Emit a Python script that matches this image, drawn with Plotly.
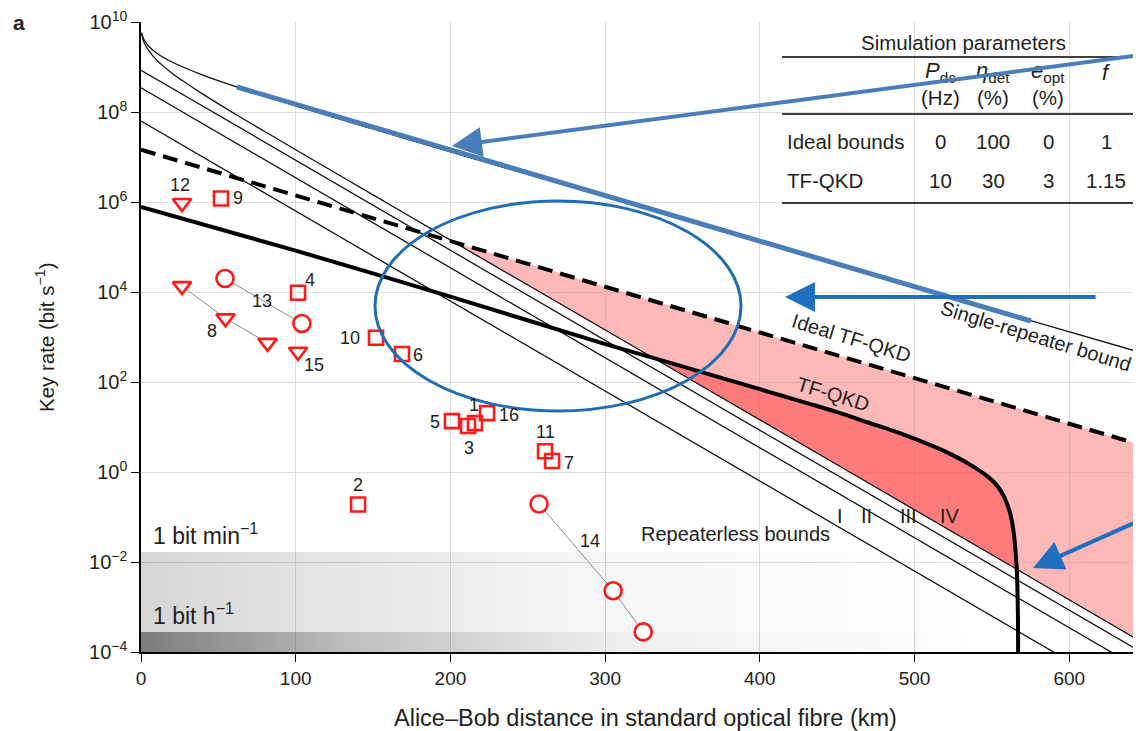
import numpy as np
import plotly.graph_objects as go

# ---------------- data ----------------
x_tick_vals = [0, 100, 200, 300, 400, 500, 600]
y_tick_exps = [-4, -2, 0, 2, 4, 6, 8, 10]
x_max_km = 646.4

# Single-repeater bound
srb_km = [0.5, 1, 2, 5, 10, 20, 40, 62, 100, 150, 200, 300, 400, 500, 646.4]
srb_rate = [5.8e9, 4.9e9, 4.0e9, 2.9e9, 2.05e9, 1.29e9, 6.6e8, 3.6e8, 1.37e8,
            4.2e7, 1.3e7, 1.3e6, 1.3e5, 1.3e4, 4.5e2]

# Repeaterless bounds I-IV
bound_iv_km = [0.5, 1, 2, 5, 10, 20, 30, 40, 60, 80, 100, 150, 202, 331, 566.1, 646.4]
bound_iv_rate = [5.5e9, 4.5e9, 3.5e9, 2.3e9, 1.44e9, 7.3e8, 4.2e8, 2.5e8, 9.4e7,
                 3.7e7, 1.45e7, 1.44e6, 1.3e5, 3.45e2, 6.9e-3, 1.7e-4]
straight_km = [0, 646.4]
bound_i_rate = [6.3e7, 7.4e-6]
bound_ii_rate = [3.45e8, 4.1e-5]
bound_iii_rate = [8.5e8, 1.0e-4]

# Ideal TF-QKD (dashed)
ideal_tf_km = [0, 202, 646.4]
ideal_tf_rate = [1.45e7, 1.3e5, 4.0]

# TF-QKD (thick solid)
tf_km = [0, 100, 200, 297, 331, 363.5, 430.5, 450, 470, 490, 510, 525, 538, 548,
         554, 558, 561, 563, 564.5, 565.5, 566.1, 566.6, 566.9, 567.1]
tf_rate = [7.8e5, 8.3e4, 7.9e3, 7.5e2, 3.45e2, 1.62e2, 34, 21.4, 12.6, 7.4, 4.0,
           2.34, 1.32, 0.76, 0.47, 0.275, 0.151, 0.079, 0.035, 0.014, 6.9e-3,
           2.0e-3, 4.0e-4, 1e-5]

# Experiments
sq_ids = ["9", "4", "10", "6", "5", "3", "1", "16", "11", "7", "2"]
sq_km = [51.7, 101.5, 151.9, 168.7, 201.0, 211.4, 215.9, 223.7, 261.2, 265.7, 140.3]
sq_rate = [1.2e6, 9.6e3, 9.6e2, 4.2e2, 13.5, 10.5, 12.2, 20.4, 2.9, 1.75, 0.19]
tri_ids = ["12", "15"]
tri_km = [26.5, 101.5]
tri_rate = [9.5e5, 4.7e2]
exp8_km = [26.5, 54.6, 81.8]
exp8_rate = [1.35e4, 2.6e3, 7.4e2]
exp13_km = [54.3, 104.0]
exp13_rate = [2.0e4, 2.0e3]
exp14_km = [257.3, 305.2, 324.6]
exp14_rate = [0.195, 2.3e-3, 2.8e-4]

# Reference rates
one_bit_per_min = 1 / 60
one_bit_per_hour = 1 / 3600
axis_min_rate = 1e-4

# Table
table_title = "Simulation parameters"
table_head_sym = ["<i>P</i><sub>dc</sub>", "<i>η</i><sub>det</sub>", "<i>e</i><sub>opt</sub>", "<i>f</i>"]
table_head_unit = ["(Hz)", "(%)", "(%)", ""]
table_rows = ["Ideal bounds", "TF-QKD"]
table_vals = [["0", "100", "0", "1"], ["10", "30", "3", "1.15"]]

# ---------------- layout / style ----------------
OFF = 8                      # default page margin of the html body
SCR_W, SCR_H = 1141, 731
PLOT_L, PLOT_R, PLOT_T, PLOT_B = 141, 1141, 22, 652   # plot area on screen
W, H = SCR_W - OFF, SCR_H - OFF
ML, MT = PLOT_L - OFF, PLOT_T - OFF
MB = H - (PLOT_B - OFF)
PW, PH = PLOT_R - PLOT_L, PLOT_B - PLOT_T
FONT = "Liberation Sans, Arial, Helvetica, sans-serif"
TXT = "#231f20"
RED = "#ff1a1a"


def px(x):
    return (x - PLOT_L) / PW


def py(y):
    return (PLOT_B - y) / PH


def paper_text(x, y, text, size, **kw):
    d = dict(x=px(x), y=py(y), xref="paper", yref="paper", text=text, showarrow=False,
             xanchor="center", yanchor="middle", font=dict(size=size, color=TXT))
    d.update(kw)
    return d


fig = go.Figure()

# grey 1 bit/min and 1 bit/h bands
for top, cs in [(one_bit_per_min, [[0, "rgba(0,0,0,0.16)"], [0.3, "rgba(0,0,0,0.085)"],
                                   [0.6, "rgba(0,0,0,0.025)"], [1, "rgba(0,0,0,0)"]]),
                (one_bit_per_hour, [[0, "rgba(0,0,0,0.42)"], [0.25, "rgba(0,0,0,0.17)"],
                                    [0.55, "rgba(0,0,0,0.04)"], [1, "rgba(0,0,0,0)"]])]:
    fig.add_trace(go.Scatter(
        x=[0, x_max_km, x_max_km, 0, 0], y=[axis_min_rate, axis_min_rate, top, top, axis_min_rate],
        mode="lines", line=dict(width=0), fill="toself",
        fillgradient=dict(type="horizontal", colorscale=cs, start=0, stop=0.85 * x_max_km),
        hoverinfo="skip", showlegend=False))

iv_km = np.array(bound_iv_km)
iv_rate = np.array(bound_iv_rate)
id_km = np.array(ideal_tf_km)
id_rate = np.array(ideal_tf_rate)
tk = np.array(tf_km)
tr = np.array(tf_rate)

# light pink region: between bound IV and ideal TF-QKD
m1 = iv_km >= 202
fig.add_trace(go.Scatter(x=iv_km[m1], y=iv_rate[m1], mode="lines", line=dict(width=0),
                         hoverinfo="skip", showlegend=False))
m2 = id_km >= 202
fig.add_trace(go.Scatter(x=id_km[m2], y=id_rate[m2], mode="lines", line=dict(width=0),
                         fill="tonexty", fillcolor="rgba(251,126,126,0.55)", hoverinfo="skip", showlegend=False))
# darker region: between bound IV and TF-QKD
m3 = (iv_km >= 331) & (iv_km <= 566.1)
fig.add_trace(go.Scatter(x=iv_km[m3], y=iv_rate[m3], mode="lines", line=dict(width=0),
                         hoverinfo="skip", showlegend=False))
m4 = (tk >= 331) & (tk <= 566.1)
fig.add_trace(go.Scatter(x=tk[m4], y=tr[m4], mode="lines", line=dict(width=0, shape="spline", smoothing=0.8),
                         fill="tonexty", fillcolor="rgba(255,84,84,0.6)", hoverinfo="skip", showlegend=False))

thin = dict(color="#111", width=1.3)
for yy in [bound_i_rate, bound_ii_rate, bound_iii_rate]:
    fig.add_trace(go.Scatter(x=straight_km, y=yy, mode="lines", line=thin, showlegend=False))
fig.add_trace(go.Scatter(x=bound_iv_km, y=bound_iv_rate, mode="lines", line=dict(thin, shape="spline"), showlegend=False))
fig.add_trace(go.Scatter(x=srb_km, y=srb_rate, mode="lines", line=dict(thin, shape="spline"), showlegend=False))
fig.add_trace(go.Scatter(x=ideal_tf_km, y=ideal_tf_rate, mode="lines",
                         line=dict(color="black", width=4, dash="15px,8px"), showlegend=False))
fig.add_trace(go.Scatter(x=tf_km, y=tf_rate, mode="lines",
                         line=dict(color="black", width=4, shape="spline", smoothing=0.8), showlegend=False))

# connected experiments
grey_line = dict(color="#8a8a8a", width=1)
for kk, rr, sym in [(exp8_km, exp8_rate, "triangle-down"), (exp13_km, exp13_rate, "circle"),
                    (exp14_km, exp14_rate, "circle")]:
    fig.add_trace(go.Scatter(x=kk, y=rr, mode="lines+markers", line=grey_line,
                             marker=dict(symbol=sym, size=17 if sym == "circle" else 16, color="white",
                                         line=dict(color=RED, width=2.6)),
                             showlegend=False))
fig.add_trace(go.Scatter(x=sq_km, y=sq_rate, mode="markers",
                         marker=dict(symbol="square-open", size=14, color=RED, line=dict(color=RED, width=2.6)),
                         showlegend=False))
fig.add_trace(go.Scatter(x=tri_km, y=tri_rate, mode="markers",
                         marker=dict(symbol="triangle-down-open", size=16, color=RED, line=dict(color=RED, width=2.6)),
                         showlegend=False))

annotations = []
# experiment labels (pixel offsets from the marker)
label_shift = {"9": (17, 0), "4": (12, -13), "10": (-26, 0), "6": (16, 1), "5": (-17, 1),
               "3": (1, 22), "1": (-1, -18), "16": (22, 2), "11": (0, -19), "7": (17, 2),
               "2": (0, -19), "12": (-2, -18), "15": (16, 13), "8": (-13, 13), "13": (-40, -22),
               "14": (51, 37)}
lab_pts = list(zip(sq_ids, sq_km, sq_rate)) + list(zip(tri_ids, tri_km, tri_rate)) + [
    ("8", exp8_km[1], exp8_rate[1]), ("13", exp13_km[1], exp13_rate[1]), ("14", exp14_km[0], exp14_rate[0])]
for lab, k, r in lab_pts:
    dx, dy = label_shift[lab]
    annotations.append(dict(x=k, y=np.log10(r), xref="x", yref="y", text=lab, showarrow=False,
                            xanchor="center", yanchor="middle",
                            xshift=dx, yshift=-dy, font=dict(size=18, color=TXT)))

# curve labels (data coordinates)
curve_labels = [("Ideal TF-QKD", 459, 2.98, 17), ("Single-repeater bound", 578.5, 3.02, 17),
                ("TF-QKD", 447.3, 1.73, 17), ("Repeaterless bounds", 384.6, -1.38, 0),
                ("I", 451.8, -0.98, 0), ("II", 468.7, -0.98, 0), ("III", 495.8, -0.98, 0),
                ("IV", 523.0, -0.98, 0)]
for t, k, lg, ang in curve_labels:
    annotations.append(dict(x=k, y=lg, xref="x", yref="y", text=t, showarrow=False, textangle=ang,
                            xanchor="center", yanchor="middle", font=dict(size=20, color=TXT)))
for rate, t in [(one_bit_per_min, "1 bit min<sup>−1</sup>"), (one_bit_per_hour, "1 bit h<sup>−1</sup>")]:
    annotations.append(dict(x=6.5, y=np.log10(rate), xref="x", yref="y", text=t,
                            xanchor="left", yanchor="bottom", yshift=1, showarrow=False,
                            font=dict(size=23, color=TXT)))

# axis titles and panel letter
annotations.append(paper_text(645.5, 718, "Alice–Bob distance in standard optical fibre (km)", 23.5))
annotations.append(paper_text(45, 337, "Key rate (bit s<sup>−1</sup>)", 20.5, textangle=-90))
annotations.append(paper_text(19, 22, "<b>a</b>", 21))

# table
col_x = [940, 993, 1048, 1106]
annotations.append(paper_text(963, 42, table_title, 20.5))
for cx, s, u in zip(col_x, table_head_sym, table_head_unit):
    annotations.append(paper_text(cx, 72, s, 22))
    if u:
        annotations.append(paper_text(cx, 97, u, 20.5))
for ry, name, vals in zip([141, 180], table_rows, table_vals):
    annotations.append(paper_text(785, ry, name, 20.5, xanchor="left"))
    for cx, v in zip(col_x, vals):
        annotations.append(paper_text(cx, ry, v, 20.5))

shapes = []
for ly in [57, 114, 203]:
    shapes.append(dict(type="line", xref="paper", yref="paper", x0=px(782), x1=px(1134), y0=py(ly), y1=py(ly),
                       line=dict(color="black", width=1.3)))

# blue overlay annotations
shapes.append(dict(type="line", xref="paper", yref="paper", x0=px(237), y0=py(87), x1=px(1031), y1=py(321),
                   line=dict(color="#4a7ebb", width=5), layer="above"))
shapes.append(dict(type="circle", xref="paper", yref="paper", x0=px(375), x1=px(741), y0=py(411), y1=py(201),
                   line=dict(color="#1f6db5", width=3), layer="above"))
for hx, hy, tx, ty, col in [(452, 146, 1141, 55, "#4a7ebb"), (785, 297, 1097, 297, "#1f70c0"),
                            (1033, 568, 1141, 520, "#1f70c0")]:
    annotations.append(dict(x=px(hx), y=py(hy), xref="paper", yref="paper", ax=tx - hx, ay=ty - hy,
                            axref="pixel", ayref="pixel", text="", showarrow=True, arrowhead=2,
                            arrowsize=1.5, arrowwidth=4, arrowcolor=col, standoff=0))

fig.update_layout(
    width=W, height=H, margin=dict(l=ML, r=0, t=MT, b=MB, autoexpand=False),
    paper_bgcolor="white", plot_bgcolor="white",
    font=dict(family=FONT, size=19, color=TXT),
    showlegend=False,
    annotations=annotations, shapes=shapes,
    xaxis=dict(range=[0, x_max_km], tickvals=x_tick_vals, ticks="outside", ticklen=8, tickwidth=1.3,
               tickcolor="black", showline=True, linecolor="black", linewidth=1.5, showgrid=True,
               gridcolor="#dedede", gridwidth=1, zeroline=False, tickfont=dict(size=19, color=TXT)),
    yaxis=dict(type="log", range=[-4, 10.0005], tickvals=[10.0 ** e for e in y_tick_exps],
               ticktext=["10<sup>" + str(e).replace("-", "−") + "</sup>" for e in y_tick_exps],
               ticklabeloverflow="allow",
               ticks="outside", ticklen=8, tickwidth=1.3, tickcolor="black", showline=True,
               linecolor="black", linewidth=1.5, showgrid=True, gridcolor="#dedede", gridwidth=1,
               zeroline=False, tickfont=dict(size=20, color=TXT)),
)

fig.write_html("out.html")
